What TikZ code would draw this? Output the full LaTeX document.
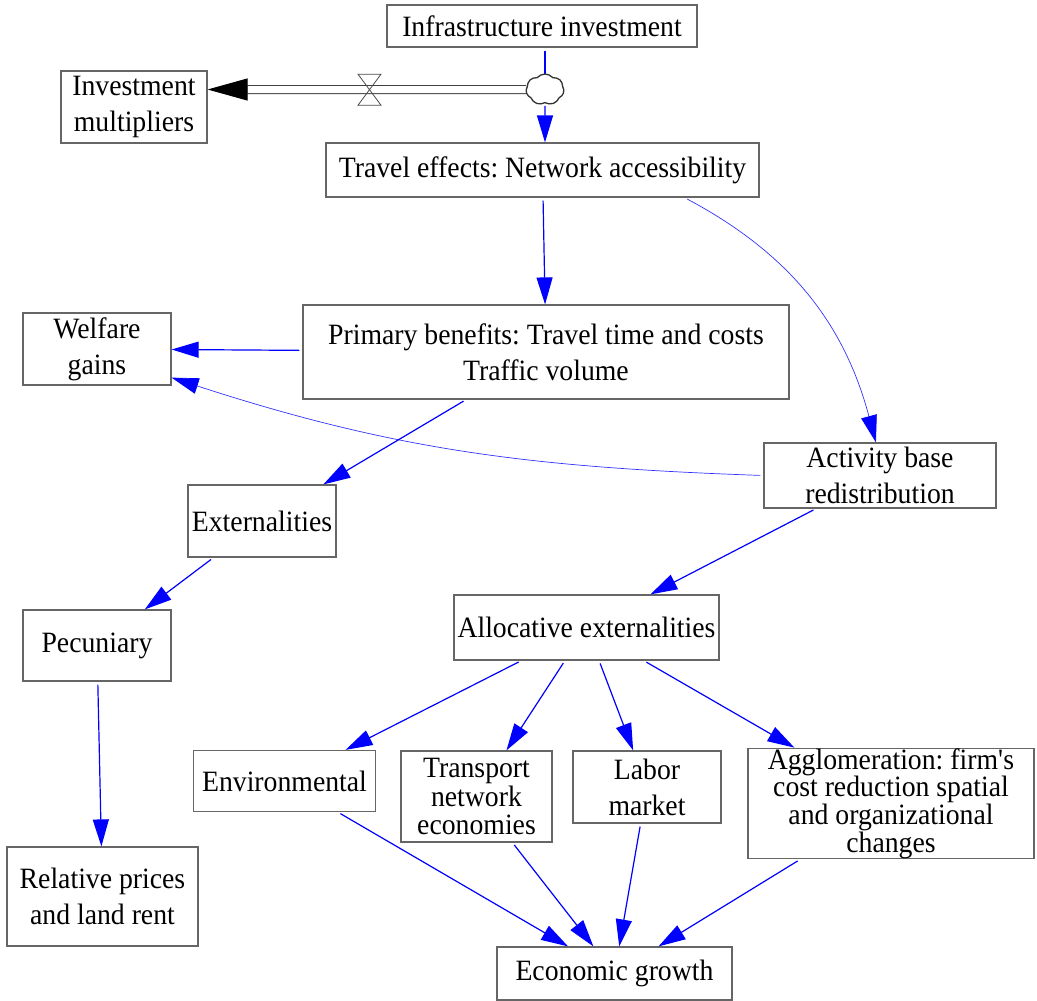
\documentclass[tikz,border=0pt]{standalone}
\usepackage{fontspec}
\setmainfont{Liberation Serif}[FakeStretch=0.94]
\usetikzlibrary{arrows.meta, shapes.symbols, calc}
\frenchspacing

\tikzset{
  var/.style={draw=black!60, line width=1.2pt, inner sep=0pt, align=center,
    font=\fontsize{29.5}{36}\selectfont},
  conn/.style={draw=blue, line width=1.2pt, shorten <=3pt,
    -{Triangle[length=27pt, width=16pt, color=blue]}},
  link/.style={conn, line width=0.7pt, draw=blue!80},
  pipe/.style={draw=black!75, line width=1pt, double=white, double distance=7pt,
    -{Triangle[length=40pt, width=22pt, color=black]}},
  valve/.style={draw=black!70, line width=0.8pt},
  blob/.style={cloud, cloud puffs=7, cloud puff arc=100, cloud ignores aspect,
    minimum width=38pt, minimum height=31pt, inner sep=0pt},
}

\begin{document}
\begin{tikzpicture}[x=1pt, y=-1pt]
  \fill[white] (0,0) rectangle (1037,1001);
  \useasboundingbox (0,0) rectangle (1037,1001);

  % Variables
  \node[var, minimum width=310pt, minimum height=42pt] (infra) at (542,26) {Infrastructure investment};
  \node[var, minimum width=146pt, minimum height=72pt] (mult) at (134,107) {Investment\\multipliers};
  \node[var, minimum width=433pt, minimum height=54pt] (travel) at (542.5,170) {Travel effects: Network accessibility};
  \node[var, minimum width=486pt, minimum height=94pt] (prim) at (546,352) {Primary benefits: Travel time and costs\\Traffic volume};
  \node[var, minimum width=148pt, minimum height=72pt] (wel) at (97,349) {Welfare\\gains};
  \node[var, minimum width=232pt, minimum height=65pt] (act) at (880,475.5) {Activity base\\redistribution};
  \node[var, minimum width=148pt, minimum height=72pt] (ext) at (262,521) {Externalities};
  \node[var, minimum width=148pt, minimum height=71pt] (pec) at (97,645.5) {Pecuniary};
  \node[var, minimum width=265pt, minimum height=65pt] (alloc) at (586.5,627.5) {Allocative externalities};
  \node[var, minimum width=182pt, minimum height=61pt] (env) at (284.5,781) {Environmental};
  \node[var, minimum width=151pt, minimum height=91pt, font=\fontsize{29.5}{28.3}\selectfont] (trans) at (476.5,796.5) {Transport\\network\\economies};
  \node[var, minimum width=148pt, minimum height=72pt] (labor) at (647,787) {Labor\\market};
  \node[var, minimum width=286pt, minimum height=106pt, font=\fontsize{29.5}{24}\selectfont] (agglo) at (891,803.5) {Agglomeration: firm\textquotesingle s\\cost reduction spatial\\and organizational\\changes};
  \node[var, minimum width=191pt, minimum height=99pt] (rel) at (102.5,896.5) {Relative prices\\and land rent};
  \node[var, minimum width=235pt, minimum height=53pt] (econ) at (614.5,973.5) {Economic growth};

  % Flow to the multipliers
  \node[blob] (src) at (545,89.5) {};
  \coordinate (vlv) at (369.5,89.7);
  \coordinate (mulin) at (mult.east |- src);
  \draw[pipe] (src.west) -- (mulin);
  \draw[valve] (vlv) ++(-11.5,-15.5) -- ++(23,0) -- ++(-23,31) -- ++(23,0) -- cycle;
  \draw[conn, -] (infra.south -| src) -- (src.north);
  \draw[conn] (src.south) -- (src |- travel.north);
  \node[blob, draw=black!80, line width=1.3pt, fill=white] at (src) {};

  % Links
  \draw[conn] (travel) -- (prim);
  \draw[link] (travel.-11) to[out=-28, in=105] (act.97);
  \draw[conn] (prim) -- (wel);
  \draw[link] (act.west) to[out=178, in=-18] (wel.-21);
  \draw[conn] (prim) -- (ext);
  \draw[conn] (ext) -- (pec);
  \draw[conn] (pec) -- (rel);
  \draw[conn] (act) -- (alloc);
  \foreach \t in {env, trans, labor, agglo}
    \draw[conn] (alloc) -- (\t);
  \foreach \s in {env, trans, labor, agglo}
    \draw[conn] (\s) -- (econ);
\end{tikzpicture}
\end{document}
